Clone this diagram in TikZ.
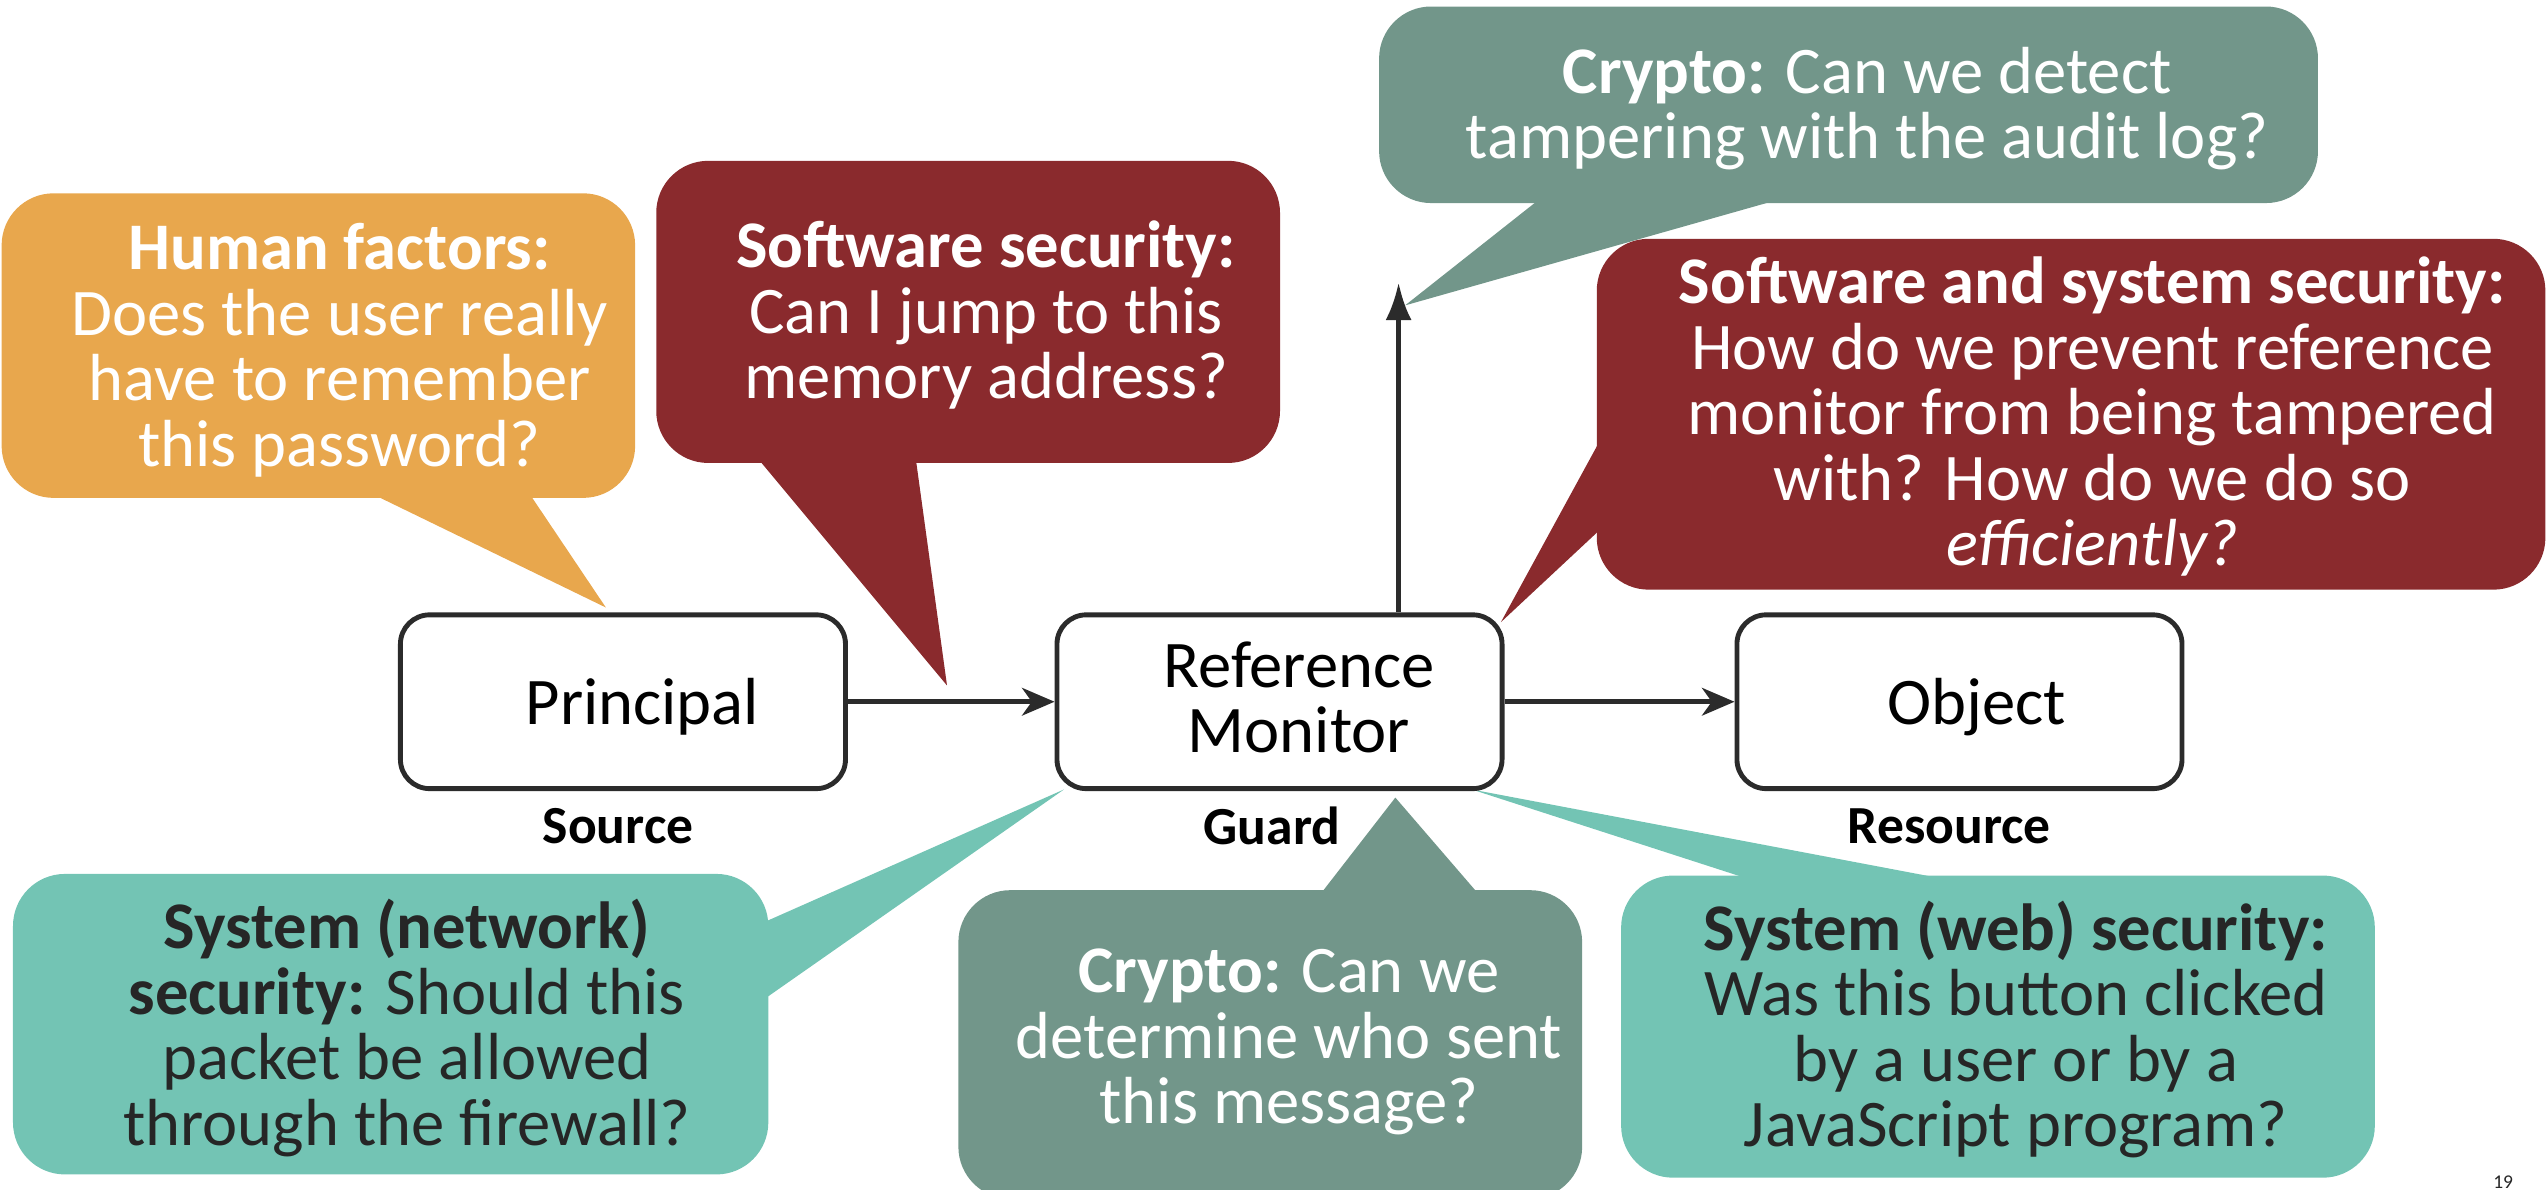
\documentclass[tikz,border=0pt]{standalone}
\usepackage{fontspec}
\setmainfont{Carlito}
\usetikzlibrary{arrows.meta}

\definecolor{humanc}{HTML}{E8A74D}
\definecolor{softc}{HTML}{8A2A2D}
\definecolor{cryptoc}{HTML}{72968A}
\definecolor{sysc}{HTML}{73C4B4}
\definecolor{inkc}{HTML}{262626}
\definecolor{edgec}{HTML}{2B2B2B}

\tikzset{
	bubble/.style={rounded corners=32pt},
	says/.style={align=center, inner sep=0pt, font=\fontsize{41}{40.3}\selectfont},
	block/.style={draw=edgec, line width=3pt, rounded corners=18pt, fill=white, minimum width=274pt, minimum height=107pt, inner sep=0pt},
	blocklabel/.style={align=center, inner sep=0pt, font=\fontsize{41}{40}\selectfont},
	role/.style={inner sep=0pt, font=\fontsize{33}{33}\selectfont\bfseries},
	flow/.style={draw=edgec, line width=3pt, -{Stealth[length=20pt,width=17pt,inset=6pt]}},
}

\begin{document}
\begin{tikzpicture}[x=1pt, y=-1pt]
			%%%%% START %%%%%
			\useasboundingbox (0,0) rectangle (1568,732);
			
			\coordinate (humantip) at (373,374);
			\coordinate (softtip) at (583,422);
			\coordinate (logtip) at (861,174);
			\coordinate (audittip) at (865,188);
			
			% human factors
			\fill[humanc] (229,304) -- (humantip) -- (326,304) -- cycle;
			\fill[humanc, bubble] (1,119) rectangle (391,306.5);
			\node[says, text=white] (human) at (209,215.5) {\textbf{Human factors:}\\Does the user really\\have to remember\\this password?};
			
			% software security
			\fill[softc] (468,284) -- (softtip) -- (564,284) -- cycle;
			\fill[softc, bubble] (404,99) rectangle (788,285);
			\node[says, text=white] (soft) at (607,194) {\textbf{Software security:}\\Can I jump to this\\memory address?};
			
			% crypto, audit log
			\fill[cryptoc] (946,124) -- (audittip) -- (1091,124) -- cycle;
			\fill[cryptoc, bubble] (849,4) rectangle (1427,125);
			\node[says, text=white] (audit) at (1149.5,66.8) {\textbf{Crypto:} Can we detect\\tampering with the audit log?};
			
			% software and system security
			\fill[softc] (984,273) -- (924,383) -- (984,327) -- cycle;
			\fill[softc, bubble] (983,147) rectangle (1567,363);
			\node[says, text=white] (tamper) at (1288,256.6) {\textbf{Software and system security:}\\How do we prevent reference\\monitor from being tampered\\with? How do we do so\\\textit{efficiently?}};
			
			% network
			\fill[sysc] (472,567) -- (655,486) -- (472,614) -- cycle;
			\fill[sysc, bubble] (8,538) rectangle (473,723);
			\node[says, text=inkc] (network) at (250.5,632.8) {\textbf{System (network)}\\\textbf{security:} Should this\\packet be allowed\\through the firewall?};
			
			% crypto, sender
			\fill[cryptoc] (814,549) -- (859,491) -- (909,549) -- cycle;
			\fill[cryptoc, bubble] (590,548) rectangle (974,738);
			\node[says, text=white] (sender) at (793.5,641.5) {\textbf{Crypto:} Can we\\determine who sent\\this message?};
			
			% web
			\fill[sysc] (1073,540) -- (906,486) -- (1191,540) -- cycle;
			\fill[sysc, bubble] (998,539) rectangle (1462,725);
			\node[says, text=inkc] (web) at (1241,633.8) {\textbf{System (web) security:}\\Was this button clicked\\by a user or by a\\JavaScript program?};
			
			% the three blocks
			\node[block] (principal) at (383.5,432) {};
			\node[block] (monitor) at (787.7,432) {};
			\node[block] (object) at (1206.3,432) {};
			\node[blocklabel] (principaltext) at (395.5,435.3) {Principal};
			\node[blocklabel] (monitortext) at (799.7,429.4) {Reference\\Monitor};
			\node[blocklabel] (objecttext) at (1217,435.3) {Object};
			
			\draw[flow] (principal.east) -- (monitor.west);
			\draw[flow] (monitor.east) -- (object.west);
			\draw[draw=edgec, line width=3pt, -{Latex[length=23pt,width=16pt]}] (monitor.north -| logtip) -- (logtip);
			
			\node[role] (source) at (380.5,508.6) {Source};
			\node[role] (guard) at (783,508.6) {Guard};
			\node[role] (resource) at (1200,508.6) {Resource};
			
			\node[inner sep=0pt, font=\fontsize{12}{12}\selectfont, text=black!85] (page) at (1541,727.5) {19};
			%%%%% END %%%%%
		\end{tikzpicture}
\end{document}
